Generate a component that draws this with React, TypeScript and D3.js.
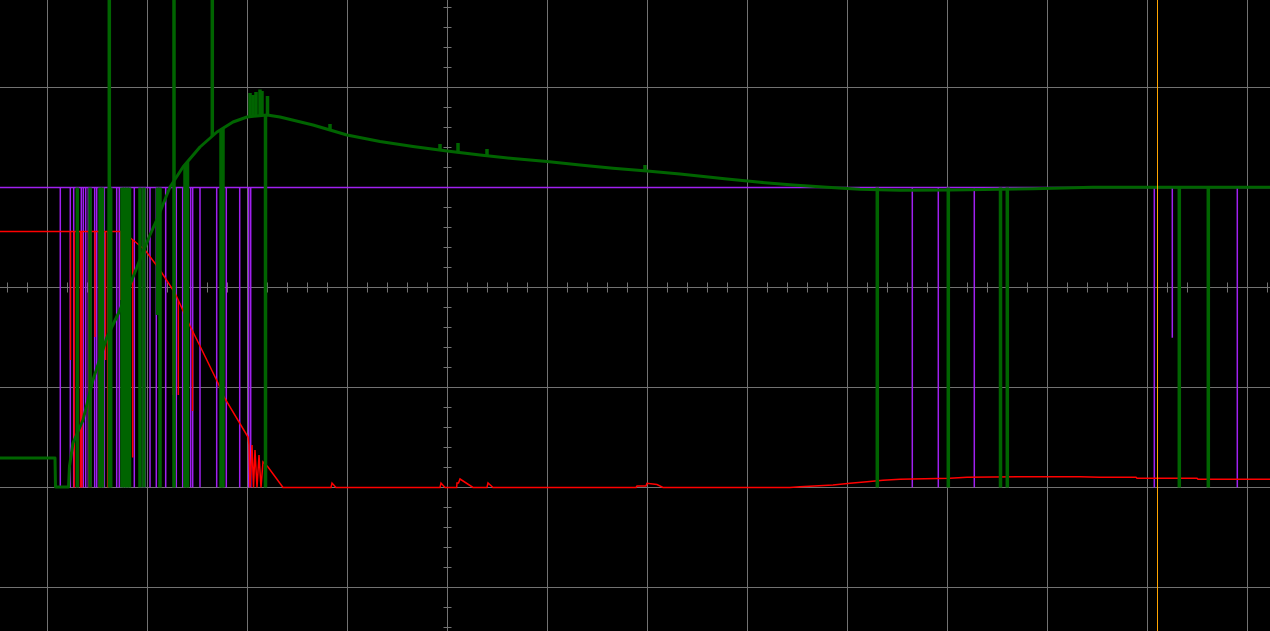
import React from "react";
import * as d3 from "d3";

// Screen: 12.7 x 6.31 divisions, centre crosshair at (0,0)
const X_DOMAIN: [number, number] = [-4.475, 8.225];
const Y_DOMAIN: [number, number] = [-3.435, 2.875];
const GRID_X = [-4, -3, -2, -1, 0, 1, 2, 3, 4, 5, 6, 7, 8];
const GRID_Y = [-3, -2, -1, 0, 1, 2];

// Green channel (analog trace)
const greenT = [-4.475, -3.925, -3.92, -3.79, -3.78, -3.745, -3.645, -3.545, -3.405, -3.275, -3.105, -2.975, -2.895, -2.775, -2.645, -2.475, -2.305, -2.145, -2.005, -1.805, -1.675, -1.345, -1.005, -0.675, -0.345, -0.005, 0.325, 0.655, 0.995, 1.325, 1.655, 1.995, 2.325, 2.795, 3.125, 3.455, 3.795, 4.125, 4.525, 5.025, 5.525, 5.855, 6.455, 8.225];
const greenV = [-1.705, -1.705, -1.995, -1.995, -1.785, -1.555, -1.325, -0.925, -0.495, -0.225, 0.205, 0.525, 0.705, 1.005, 1.205, 1.405, 1.555, 1.655, 1.705, 1.725, 1.705, 1.625, 1.525, 1.46, 1.41, 1.365, 1.325, 1.29, 1.26, 1.225, 1.192, 1.165, 1.135, 1.085, 1.052, 1.025, 1.002, 0.982, 0.972, 0.975, 0.982, 0.988, 1.002, 1.002];
// glitch level the downward glitches start from when the trace is below it
const greenGlitchTop = 1;
// glitches: [time, level reached]
const greenSpikes: [number, number][] = [
  [-3.702, -2], [-3.575, -2], [-3.475, -2], [-3.45, -2], [-3.382, -2], [-3.368, -2],
  [-3.255, -2], [-3.23, -2], [-3.205, -2], [-3.18, -2], [-3.075, -2], [-3.035, -2],
  [-2.9, -0.275], [-2.875, -2], [-2.735, -2], [-2.625, -2], [-2.6, -2], [-2.265, -2],
  [-2.245, -2], [-1.82, -2], [4.298, -2], [5.008, -2], [5.53, -2], [5.598, -2],
  [7.318, -2], [7.608, -2],
  [-3.382, 3], [-2.735, 3], [-2.352, 3],
  [-1.975, 1.945], [-1.945, 1.925], [-1.915, 1.955], [-1.875, 1.98], [-1.855, 1.965], [-1.8, 1.915],
  [-1.175, 1.635], [-0.075, 1.435], [0.105, 1.445], [0.395, 1.385], [1.975, 1.225],
];

// Purple channel (digital, high = 1, low = -2)
const purpleHigh = 1;
const purpleLow = -2;
const purplePulses = [-3.872, -3.772, -3.738, -3.702, -3.662, -3.642, -3.618, -3.592, -3.568, -3.528, -3.508, -3.432, -3.378, -3.308, -3.282, -3.258, -3.222, -3.192, -3.132, -3.072, -3.042, -3.022, -2.975, -2.912, -2.818, -2.712, -2.648, -2.568, -2.548, -2.475, -2.308, -2.212, -2.078, -1.988, -1.968, 4.648, 4.908, 5.268, 7.068, 7.898];
const purplePartial: [number, number][] = [[7.248, -0.502]];

// Red channel
const redT = [-4.475, -3.255, -3.145, -3.025, -2.875, -2.725, -2.575, -2.475, -2.295, -2.235, -1.995, -1.985, -1.975, -1.955, -1.94, -1.925, -1.905, -1.885, -1.865, -1.845, -1.795, -1.645,
  -1.165, -1.155, -1.115, -0.075, -0.065, -0.025, 0.092, 0.095, 0.11, 0.125, 0.255, 0.395, 0.405, 0.455,
  1.885, 1.895, 1.985, 1.995, 2.095, 2.155, 3.425, 3.525, 3.855, 4.025, 4.195, 4.355, 4.525, 5.025, 5.195, 5.855, 6.325, 6.525, 6.885, 6.895, 7.495, 7.505, 8.225];
const redV = [0.56, 0.56, 0.475, 0.375, 0.175, -0.055, -0.385, -0.585, -0.955, -1.095, -1.495, -1.575, -2, -1.575, -2, -1.625, -2, -1.675, -2, -1.745, -1.795, -2,
  -2, -1.955, -2, -2, -1.955, -2, -2, -1.955, -1.955, -1.915, -2, -2, -1.955, -2,
  -2, -1.985, -1.985, -1.958, -1.97, -2, -2, -1.992, -1.975, -1.958, -1.942, -1.928, -1.918, -1.908, -1.898, -1.892, -1.892, -1.898, -1.898, -1.908, -1.908, -1.918, -1.918];
const redSpikes: [number, number][] = [
  [-3.77, -0.725], [-3.733, -2], [-3.708, -2], [-3.67, -2], [-3.655, -2], [-3.585, -2], [-3.57, -2],
  [-3.525, -0.495], [-3.482, -2], [-3.42, -0.725], [-3.398, -2], [-3.268, -0.125], [-3.148, -1.7],
  [-3.038, 0.825], [-2.742, -1.075], [-2.692, -1.075], [-2.55, -1.235],
];

const cursorT = 7.1;

const W = 1270;
const H = 631;

export default function App() {
  const x = d3.scaleLinear().domain(X_DOMAIN).range([0, W]);
  const y = d3.scaleLinear().domain(Y_DOMAIN).range([H, 0]);
  const greenAt = d3.scaleLinear().domain(greenT).range(greenV);
  const redAt = d3.scaleLinear().domain(redT).range(redV);

  const line = d3
    .line<[number, number]>()
    .x((d) => x(d[0]))
    .y((d) => y(d[1]));

  const greenPts: [number, number][] = greenT.map((t, i) => [t, greenV[i]]);
  const redPts: [number, number][] = redT.map((t, i) => [t, redV[i]]);

  const minorX = d3.range(-4.4, 8.21, 0.2);
  const minorY = d3.range(-3.4, 2.81, 0.2);
  const grid = "#727272";
  const green = "#006400";

  const spikeStart = (t: number, v: number) => {
    const tr = greenAt(t);
    return v < tr ? Math.max(tr, greenGlitchTop) : tr;
  };

  return (
    <svg
      width={W}
      height={H}
      style={{ position: "absolute", left: 0, top: 0, display: "block", background: "#000" }}
    >
      <rect x={0} y={0} width={W} height={H} fill="#000" />
      <g stroke={grid} strokeWidth={1}>
        {GRID_X.map((g) => (
          <line key={"gx" + g} x1={x(g)} x2={x(g)} y1={0} y2={H} />
        ))}
        {GRID_Y.map((g) => (
          <line key={"gy" + g} x1={0} x2={W} y1={y(g)} y2={y(g)} />
        ))}
        {minorX.map((t, i) => (
          <line key={"mx" + i} x1={x(t)} x2={x(t)} y1={y(0) - 5} y2={y(0) + 5} />
        ))}
        {minorY.map((v, i) => (
          <line key={"my" + i} x1={x(0) - 4} x2={x(0) + 4} y1={y(v)} y2={y(v)} />
        ))}
      </g>

      <g stroke="#a020f0" strokeWidth={1.5} fill="none">
        <line x1={0} x2={W} y1={y(purpleHigh)} y2={y(purpleHigh)} />
        {purplePulses.map((t, i) => (
          <line key={"p" + i} x1={x(t)} x2={x(t)} y1={y(purpleHigh)} y2={y(purpleLow)} />
        ))}
        {purplePartial.map(([t, v], i) => (
          <line key={"pp" + i} x1={x(t)} x2={x(t)} y1={y(purpleHigh)} y2={y(v)} />
        ))}
      </g>

      <g stroke="#ff0000" strokeWidth={1.5} fill="none">
        <path d={line(redPts) || ""} />
        {redSpikes.map(([t, v], i) => (
          <line key={"r" + i} x1={x(t)} x2={x(t)} y1={y(redAt(t))} y2={y(v)} />
        ))}
      </g>

      <g stroke={green} fill="none">
        <path d={line(greenPts) || ""} strokeWidth={3} strokeLinejoin="round" />
        {greenSpikes.map(([t, v], i) => (
          <line key={"g" + i} x1={x(t)} x2={x(t)} y1={y(spikeStart(t, v))} y2={y(v)} strokeWidth={3.5} />
        ))}
      </g>

      <line x1={x(cursorT)} x2={x(cursorT)} y1={0} y2={H} stroke="#ffa500" strokeWidth={1} />
    </svg>
  );
}
